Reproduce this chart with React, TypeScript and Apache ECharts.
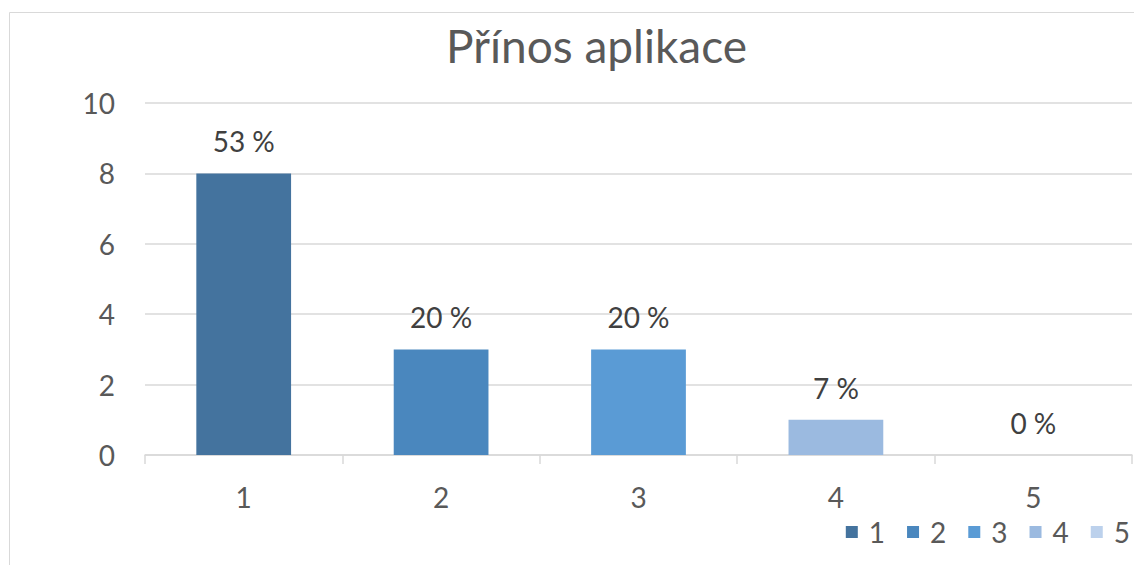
import React, { useEffect, useRef } from "react";
import * as echarts from "echarts";

// Rating categories and the number of answers for each
const categories = ["1", "2", "3", "4", "5"];
const counts = [8, 3, 3, 1, 0];
const percentLabels = ["53 %", "20 %", "20 %", "7 %", "0 %"];
const seriesColors = ["#44739E", "#4A87BE", "#5A9BD5", "#9BBAE0", "#BCD1EC"];
const yTicks = [0, 2, 4, 6, 8, 10];

const FONT = "Lato, 'Noto Sans', sans-serif";

export default function App() {
  const ref = useRef<HTMLDivElement>(null);

  useEffect(() => {
    document.body.style.margin = "0";
    if (!ref.current) return;
    const chart = echarts.init(ref.current, undefined, { renderer: "svg" });

    // One series per rating so each bar gets its own legend entry
    const series = categories.map((name, i) => ({
      name,
      type: "bar" as const,
      stack: "ratings",
      barWidth: "48%",
      itemStyle: { color: seriesColors[i] },
      data: categories.map((_, j) => (j === i ? counts[i] : "-")),
      label: {
        show: true,
        position: "top" as const,
        distance: 18,
        fontFamily: FONT,
        fontSize: 28,
        color: "#404040",
        formatter: () => percentLabels[i],
      },
    }));

    chart.setOption({
      animation: false,
      backgroundColor: "#ffffff",
      textStyle: { fontFamily: FONT },
      title: {
        text: "Přínos aplikace",
        left: 441,
        top: 17,
        textStyle: { fontFamily: FONT, fontSize: 46, fontWeight: "normal", color: "#595959" },
      },
      graphic: [
        {
          type: "rect",
          shape: { x: 9.5, y: 12.5, width: 1200, height: 600 },
          style: { fill: "none", stroke: "#d9d9d9", lineWidth: 1 },
          silent: true,
          z: -1,
        },
      ],
      legend: {
        right: -1,
        bottom: 14,
        icon: "rect",
        itemWidth: 12,
        itemHeight: 12,
        itemGap: 22,
        textStyle: { fontFamily: FONT, fontSize: 28, color: "#595959", padding: [0, 0, 0, 6] },
        data: categories,
      },
      grid: { left: 145, right: 2, top: 103, bottom: 110 },
      xAxis: {
        type: "category",
        data: categories,
        axisLine: { lineStyle: { color: "#d9d9d9", width: 1.5 } },
        axisTick: { show: true, length: 9, lineStyle: { color: "#d9d9d9", width: 1.5 } },
        axisLabel: { fontFamily: FONT, fontSize: 28, color: "#595959", margin: 28 },
      },
      yAxis: {
        type: "value",
        min: yTicks[0],
        max: yTicks[yTicks.length - 1],
        interval: 2,
        axisLine: { show: false },
        axisTick: { show: false },
        splitLine: { lineStyle: { color: "#d9d9d9", width: 1.5 } },
        axisLabel: { fontFamily: FONT, fontSize: 28, color: "#595959", margin: 30 },
      },
      series,
    });

    return () => chart.dispose();
  }, []);

  return <div ref={ref} style={{ width: 1134, height: 565 }} />;
}
